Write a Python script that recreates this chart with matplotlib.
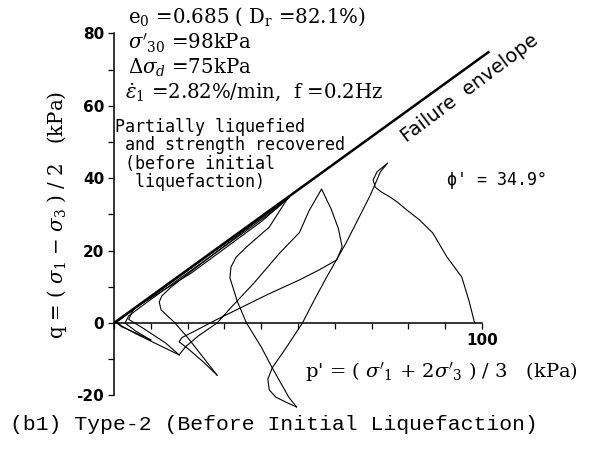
import numpy as np
import matplotlib
matplotlib.use("Agg")
import matplotlib.pyplot as plt

plt.rcParams['mathtext.fontset'] = 'dejavuserif'

# stress path, one list pair per loading stage (p' and q in kPa)
p_first = [98, 96.5, 94.5, 90.5, 86.6, 83.0, 79.6, 77.0, 75.0, 72.5, 71.0, 70.4, 71.5, 74.4,
           72.4, 70.8, 69.5, 67.0, 63.0, 57.8, 54.5, 51.2, 47.0, 43.0, 41.8, 42.2, 44.0, 47.0, 49.6]
q_first = [0, 6.0, 12.7, 18.2, 24.9, 28.5, 31.2, 33.4, 34.8, 36.3, 37.5, 39.5, 41.8, 44.2,
           41.8, 38.0, 35.0, 30.0, 22.0, 12.7, 6.5, 0, -6.5, -12.4, -15.5, -18.5, -20.5, -22.0, -23.2]

p_second = [49.6, 47.5, 45.0, 43.0, 40.0, 36.0, 33.5, 31.5, 31.8, 33.2, 36.0, 42.2, 46.9, 47.7,
            44.0, 38.0, 28.6, 20.0, 15.5, 13.0, 12.3, 12.8, 16.3, 20.0, 24.0, 28.0]
q_second = [-23.2, -20.5, -16.0, -12.4, -6.6, 0, 6.0, 12.5, 15.5, 18.2, 21.0, 26.5, 34.0, 34.8,
            31.8, 27.5, 20.2, 13.5, 9.9, 7.5, 5.8, 3.6, 0.3, -4.0, -9.2, -14.4]

p_third = [28.0, 24.0, 20.0, 17.7, 18.5, 22.0, 28.0, 35.0, 42.0, 50.4, 56.0, 60.5, 62.0, 61.0,
           59.0, 56.4, 53.0, 50.4, 45.0, 38.0, 32.0, 28.0, 23.0, 19.5, 17.7]
q_third = [-14.4, -10.5, -7.0, -5.2, -4.0, -2.2, 1.0, 4.5, 8.0, 11.9, 14.8, 17.4, 21.0, 26.0,
           31.5, 37.0, 31.0, 25.0, 19.3, 11.0, 4.5, 0, -3.5, -6.5, -8.8]

p_fourth = [17.7, 12.0, 6.0, 2.0, 0.8, 5.0, 15.0, 25.0, 35.0, 43.0, 47.7,
            44.0, 35.0, 25.0, 15.0, 8.0, 4.0, 3.0, 6.0, 10.0]
q_fourth = [-8.8, -6.0, -3.0, -0.8, 0.3, 3.5, 10.8, 18.2, 25.6, 31.3, 34.8,
            31.5, 24.8, 17.5, 10.2, 5.0, 2.0, 0, -2.3, -4.7]

p_fifth = [10.0, 6.0, 2.0, 0.5, 10.0, 25.0, 40.0, 47.7,
           40.0, 21.0, 5.4, 4.0, 8.0, 14.0, 17.7]
q_fifth = [-4.7, -2.8, -1.0, 0.2, 7.2, 18.2, 29.2, 34.8,
           28.0, 13.8, 4.0, 1.0, -1.5, -5.5, -8.8]

# failure envelope, phi' = 34.9 deg
p_env = [0, 102]
q_env = [0, 75]

x_ticks = np.arange(0, 101, 10)
y_ticks = np.arange(-20, 81, 10)

fig = plt.figure(figsize=(6.12, 4.66), dpi=100)
x0, sx = 114, 3.68
y0, sy = 323, 3.62
ax = fig.add_axes([x0 / 612, 0, (612 - x0) / 612, 1])
ax.set_xlim(0, (612 - x0) / sx)
ax.set_ylim(-(466 - y0) / sy, y0 / sy)

for s in ['top', 'right']:
    ax.spines[s].set_visible(False)
ax.spines['bottom'].set_position(('data', 0))
ax.spines['bottom'].set_bounds(0, 100)
ax.spines['left'].set_bounds(-20, 80)
for s in ['bottom', 'left']:
    ax.spines[s].set_linewidth(1.1)

ax.set_xticks(x_ticks)
ax.set_xticklabels(['100' if v == 100 else '' for v in x_ticks])
ax.set_yticks(y_ticks)
ax.set_yticklabels([str(v) if v % 20 == 0 else '' for v in y_ticks])
ax.tick_params(axis='both', direction='out', length=4, width=0.9)
ax.tick_params(axis='x', pad=3)
ax.tick_params(axis='y', pad=3)
for lab in ax.get_xticklabels() + ax.get_yticklabels():
    lab.set_fontweight('bold')
    lab.set_fontsize(11)

ax.plot(p_env, q_env, color='black', lw=1.8, solid_capstyle='butt')
for p, q in [(p_first, q_first), (p_second, q_second), (p_third, q_third),
             (p_fourth, q_fourth), (p_fifth, q_fifth)]:
    ax.plot(p, q, color='black', lw=0.8)

# test conditions
serif = 'DejaVu Serif'
ax.text(3.8, 84.5, r"e$_0$ =0.685 ( D$_\mathrm{r}$ =82.1%)", fontsize=14.2, family=serif, va='center')
ax.text(3.8, 77.3, r"$\sigma'_{30}$ =98kPa", fontsize=14.2, family=serif, va='center')
ax.text(3.8, 70.6, r"$\Delta\sigma_d$ =75kPa", fontsize=14.2, family=serif, va='center')
ax.text(3.0, 63.7, r"$\dot{\varepsilon}_1$ =2.82%/min,  f =0.2Hz", fontsize=14.2, family=serif, va='center')

ax.text(0.2, 56.6, "Partially liquefied\n and strength recovered\n (before initial\n  liquefaction)",
        fontsize=12, family='DejaVu Sans Mono', va='top', linespacing=1.02)

ax.text(90.5, 39.5, "ϕ' = 34.9°", fontsize=12, family='DejaVu Sans Mono', va='center')

ax.text(96.7, 64.9, "Failure  envelope", fontsize=14, rotation=37, rotation_mode='anchor',
        ha='center', va='center')

ax.text(52, -13.5, r"p' = ( $\sigma'_1$ + 2$\sigma'_3$ ) / 3   (kPa)", fontsize=14, family=serif,
        va='center')

fig.text(57 / 612, 1 - 215 / 466, r"q = ( $\sigma_1$ $-$ $\sigma_3$ ) / 2   (kPa)", fontsize=14.2,
         family=serif, rotation=90, ha='center', va='center')

fig.text(10 / 612, 1 - 424 / 466, "(b1) Type-2 (Before Initial Liquefaction)", fontsize=15.4,
         family='Liberation Mono', va='center')

fig.savefig('out.png', dpi=100)
